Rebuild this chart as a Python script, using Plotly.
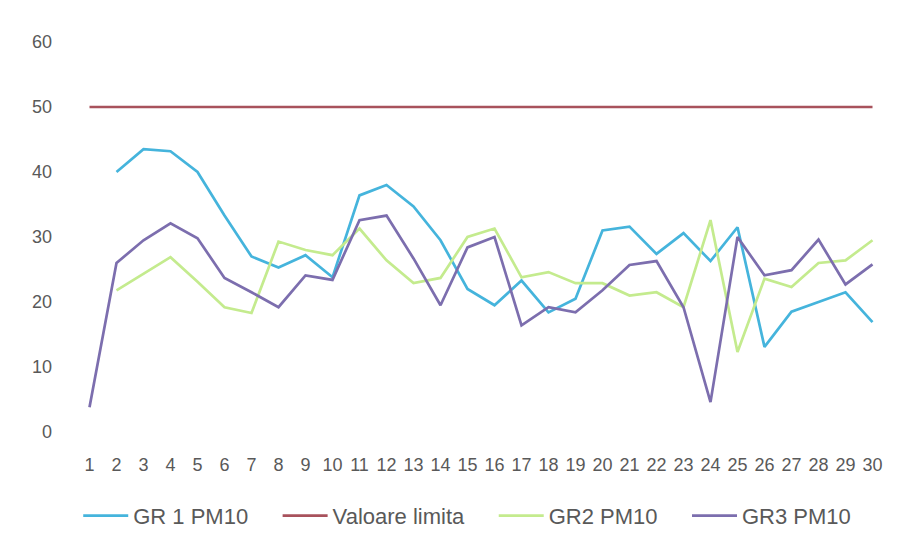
import plotly.graph_objects as go

days = list(range(1, 31))
tick_labels = [str(d) for d in days]

gr1 = [None, 40, 43.5, 43.2, 40, 33.3, 27, 25.3, 27.2, 23.8, 36.4, 38, 34.7, 29.5, 22, 19.5,
       23.3, 18.4, 20.5, 31, 31.6, 27.4, 30.6, 26.3, 31.5, 13.1, 18.5, 20, 21.5, 16.9]
limit = [50] * 30
gr2 = [None, 21.8, 24.4, 26.9, 23.1, 19.2, 18.3, 29.3, 28, 27.2, 31.3, 26.4, 22.9, 23.7, 30, 31.3,
       23.8, 24.6, 22.9, 22.9, 21, 21.5, 19.2, 32.6, 12.3, 23.6, 22.3, 26, 26.4, 29.5]
gr3 = [3.8, 26, 29.5, 32.1, 29.8, 23.7, 21.5, 19.2, 24.1, 23.4, 32.6, 33.3, 26.7, 19.5, 28.4, 30,
       16.4, 19.2, 18.4, 21.8, 25.7, 26.3, 19.2, 4.6, 30, 24.1, 24.9, 29.6, 22.7, 25.8]

names = ["GR 1 PM10", "Valoare limita", "GR2 PM10", "GR3 PM10"]
colors = ["#45b4dc", "#a8525c", "#c4eb8e", "#7c6eae"]
series = [gr1, limit, gr2, gr3]

pad = "\u00a0" * 4
fig = go.Figure()
for i, (name, col, vals) in enumerate(zip(names, colors, series)):
    label = name + (pad if i < len(names) - 1 else "")
    fig.add_trace(go.Scatter(x=days, y=vals, name=label, mode="lines",
                             line=dict(color=col, width=2.7), connectgaps=False))

fig.update_layout(
    width=905, height=541,
    margin=dict(l=68, r=27, t=34, b=117),
    paper_bgcolor="white", plot_bgcolor="white",
    font=dict(family="Liberation Sans, Arial", size=18, color="#595959"),
    showlegend=True,
    legend=dict(orientation="h", x=0.483, xanchor="center", y=-0.215, yanchor="middle",
                font=dict(size=22, color="#595959"), itemwidth=45, tracegroupgap=0),
    xaxis=dict(range=[0.5, 30.5], tickmode="array", tickvals=days, ticktext=tick_labels,
               showgrid=False, zeroline=False, showline=False, ticks="",
               ticklabelstandoff=20, tickangle=0, tickfont=dict(size=18), automargin=False),
    yaxis=dict(range=[0, 60], dtick=10, showgrid=False, zeroline=False, showline=False,
               ticks="", ticklabelstandoff=23, tickfont=dict(size=18), automargin=False),
)

fig.write_html("out.html")
